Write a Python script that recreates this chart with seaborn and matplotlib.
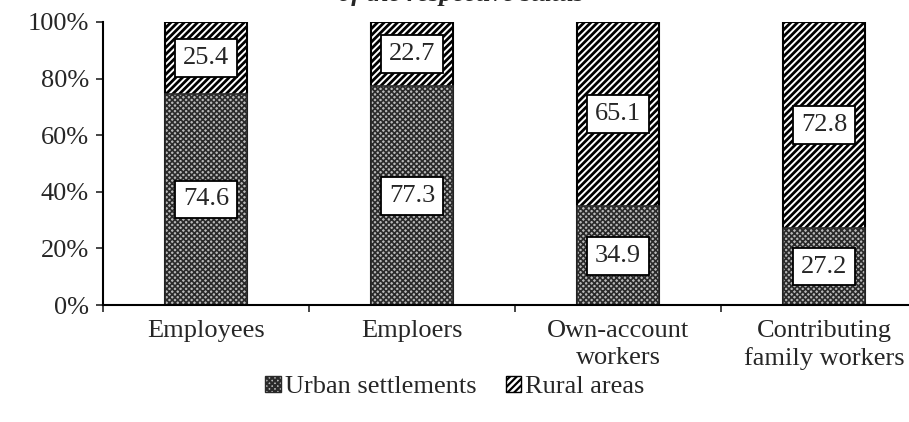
import pandas as pd
import matplotlib.pyplot as plt
import seaborn as sns
from matplotlib.patches import Patch
from matplotlib.ticker import FuncFormatter

categories = ['Employees', 'Emploers', 'Own-account\nworkers', 'Contributing\nfamily workers']
urban = [74.6, 77.3, 34.9, 27.2]
rural = [25.4, 22.7, 65.1, 72.8]
yticks = [0, 20, 40, 60, 80, 100]

FS = 19

def main():
    df = pd.DataFrame({'status': categories, 'urban': urban, 'rural': rural})
    df['total'] = df['urban'] + df['rural']

    sns.set_style('white')
    plt.rcParams['font.family'] = ['Liberation Serif', 'DejaVu Serif']

    fig = plt.figure(figsize=(9.09, 4.22), dpi=100)
    # axes runs past the right edge of the picture, like the reference
    ax = fig.add_axes([103 / 909, 117 / 422, 824 / 909, 283 / 422])

    # rural on the bottom layer (full height), urban drawn over it
    plt.rcParams['hatch.linewidth'] = 2.0
    sns.barplot(data=df, x='status', y='total', ax=ax, width=0.4,
                color='white', edgecolor='black', linewidth=1.5, hatch='/////')
    plt.rcParams['hatch.linewidth'] = 1.2
    sns.barplot(data=df, x='status', y='urban', ax=ax, width=0.4,
                color='#b8b8b8', edgecolor='#2a2a2a', linewidth=1.2, hatch='xxxxxx')

    box = dict(boxstyle='square,pad=0.3', facecolor='white', edgecolor='black', linewidth=1.3)
    for i, row in df.iterrows():
        ax.text(i, row['urban'] / 2, f"{row['urban']:.1f}", ha='center', va='center',
                fontsize=FS, bbox=box)
        ax.text(i, row['urban'] + row['rural'] / 2, f"{row['rural']:.1f}", ha='center', va='center',
                fontsize=FS, bbox=box)

    ax.set_xlim(-0.5, 3.5)
    ax.set_ylim(0, 100)
    ax.set_yticks(yticks)
    ax.yaxis.set_major_formatter(FuncFormatter(lambda v, p: f'{v:.0f}%'))
    ax.set_xticks([i - 0.5 for i in range(len(categories))])
    ax.set_xticklabels([])
    ax.set_xticks(range(len(categories)), minor=True)
    ax.set_xticklabels(categories, minor=True, fontsize=FS, linespacing=1.25)
    ax.tick_params(axis='x', which='minor', length=0, pad=11)
    ax.tick_params(axis='x', which='major', direction='out', length=5, width=1.2, bottom=True)
    ax.tick_params(axis='y', direction='out', length=5, width=1.2, left=True, labelsize=FS, pad=5)
    ax.set_xlabel('')
    ax.set_ylabel('')
    sns.despine(ax=ax, top=True, right=True)
    for s in ['left', 'bottom']:
        ax.spines[s].set_linewidth(1.5)
        ax.spines[s].set_color('black')

    plt.rcParams['hatch.linewidth'] = 1.6
    handles = [Patch(facecolor='#b8b8b8', edgecolor='#2a2a2a', hatch='xxxxxx', label='Urban settlements'),
               Patch(facecolor='white', edgecolor='black', hatch='/////', label='Rural areas')]
    fig.legend(handles=handles, loc='center', bbox_to_anchor=(455 / 909, 1 - 387 / 422), ncol=2,
               frameon=False, fontsize=FS, handlelength=0.6, handleheight=0.6,
               handletextpad=0.15, columnspacing=1.1)

    # title is cut off by the top of the image
    fig.text(461 / 909, 1 - 1 / 422, 'of the respective status', ha='center', va='baseline',
             fontsize=FS, style='italic', fontweight='bold')

    fig.savefig('out.png', dpi=100)

if __name__ == '__main__':
    main()
